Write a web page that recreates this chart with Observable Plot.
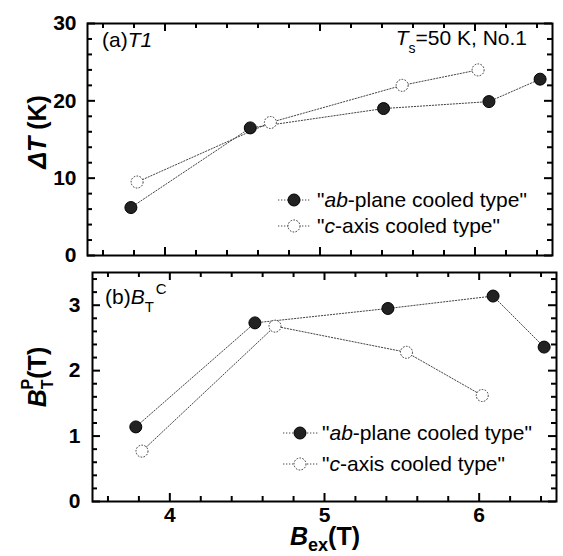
<!DOCTYPE html>
<html><head><meta charset="utf-8">
<script src="https://cdn.jsdelivr.net/npm/d3@7"></script>
<script src="https://cdn.jsdelivr.net/npm/@observablehq/plot@0.6"></script>
<style>
body{margin:0;background:#fff;}
#wrap{position:relative;width:563px;height:556px;overflow:hidden;}
#wrap svg{position:absolute;left:0;overflow:visible;}
</style></head><body><div id="wrap"></div>
<script>
// ---- data ----
const seriesNames = ['"ab-plane cooled type"', '"c-axis cooled type"'];
const bexAb = [3.78, 4.55, 5.41, 6.09, 6.42];
const dTAb  = [6.2, 16.5, 19.0, 19.9, 22.8];
const bexC  = [3.82, 4.68, 5.53, 6.02];
const dTC   = [9.5, 17.2, 22.0, 24.0];
const bpAb  = [1.14, 2.73, 2.95, 3.14, 2.36];
const bpC   = [0.77, 2.68, 2.28, 1.62];
const xMajor = [4, 5, 6];
const xMinor = [3.6, 3.8, 4.2, 4.4, 4.6, 4.8, 5.2, 5.4, 5.6, 5.8, 6.2, 6.4];
const yTopMajor = [0, 10, 20, 30];
const yTopMinor = [2, 4, 6, 8, 12, 14, 16, 18, 22, 24, 26, 28];
const yBotMajor = [0, 1, 2, 3];
const yBotMinor = [0.2, 0.4, 0.6, 0.8, 1.2, 1.4, 1.6, 1.8, 2.2, 2.4, 2.6, 2.8, 3.2, 3.4];

const FONT = "'Liberation Sans', Arial, sans-serif";
const wrap = document.getElementById("wrap");
const lineStyle = {stroke: "#444", strokeWidth: 1, strokeDasharray: "1.3,1.7"};
const fillDot = {r: 6, fill: "#222", stroke: "#000", strokeWidth: 1};
const openDot = {r: 6, fill: "white", stroke: "#333", strokeWidth: 1, strokeDasharray: "1.6,1.4"};

// inward frame ticks as Plot rules; pixel lengths converted to data units
function frameRules(xDom, yDom, innerW, innerH, xMaj, xMin, yMaj, yMin) {
  const kx = (xDom[1] - xDom[0]) / innerW, ky = (yDom[1] - yDom[0]) / innerH;
  const st = {stroke: "black", strokeWidth: 2};
  const out = [];
  for (const [vals, len] of [[xMaj, 8], [xMin, 5]]) {
    out.push(Plot.ruleX(vals, {x: d => d, y1: yDom[0], y2: yDom[0] + len * ky, ...st}));
    out.push(Plot.ruleX(vals, {x: d => d, y1: yDom[1], y2: yDom[1] - len * ky, ...st}));
  }
  for (const [vals, len] of [[yMaj, 8], [yMin, 5]]) {
    out.push(Plot.ruleY(vals, {y: d => d, x1: xDom[0], x2: xDom[0] + len * kx, ...st}));
    out.push(Plot.ruleY(vals, {y: d => d, x1: xDom[1], x2: xDom[1] - len * kx, ...st}));
  }
  return out;
}

// ---- top panel ----
const T = {w: 563, h: 270, mt: 23, mb: 15, ml: 87, mr: 11};
const TxDom = [3.5, 6.5], TyDom = [0, 30];
const topAb = bexAb.map((x, i) => ({x, y: dTAb[i]}));
const topC = bexC.map((x, i) => ({x, y: dTC[i]}));
const topPlot = Plot.plot({
  width: T.w, height: T.h, marginTop: T.mt, marginBottom: T.mb, marginLeft: T.ml, marginRight: T.mr,
  style: {fontFamily: FONT, background: "transparent", color: "black"},
  x: {domain: TxDom, axis: null},
  y: {domain: TyDom, axis: null},
  marks: [
    ...frameRules(TxDom, TyDom, T.w - T.ml - T.mr, T.h - T.mt - T.mb, xMajor, xMinor, yTopMajor, yTopMinor),
    Plot.axisY(yTopMajor, {anchor: "left", tickSize: 0, tickPadding: 11, tickFormat: d => String(d), fontSize: 21, fontWeight: "bold", label: null}),
    Plot.line(topAb, {x: "x", y: "y", ...lineStyle}),
    Plot.line(topC, {x: "x", y: "y", ...lineStyle}),
    Plot.dot(topC, {x: "x", y: "y", ...openDot}),
    Plot.dot(topAb, {x: "x", y: "y", ...fillDot}),
    Plot.frame({stroke: "black", strokeWidth: 2})
  ]
});
topPlot.style.top = "0px";
wrap.appendChild(topPlot);

// ---- bottom panel ----
const B = {w: 563, h: 294, mt: 10, mb: 55, ml: 92, mr: 7, top: 262};
const BxDom = [3.5, 6.5], ByDom = [0, 3.5];
const botAb = bexAb.map((x, i) => ({x, y: bpAb[i]}));
const botC = bexC.map((x, i) => ({x, y: bpC[i]}));
const botPlot = Plot.plot({
  width: B.w, height: B.h, marginTop: B.mt, marginBottom: B.mb, marginLeft: B.ml, marginRight: B.mr,
  style: {fontFamily: FONT, background: "transparent", color: "black"},
  x: {domain: BxDom, axis: null},
  y: {domain: ByDom, axis: null},
  marks: [
    ...frameRules(BxDom, ByDom, B.w - B.ml - B.mr, B.h - B.mt - B.mb, xMajor, xMinor, yBotMajor, yBotMinor),
    Plot.axisY(yBotMajor, {anchor: "left", tickSize: 0, tickPadding: 12, tickFormat: d => String(d), fontSize: 21, fontWeight: "bold", label: null}),
    Plot.axisX(xMajor, {anchor: "bottom", tickSize: 0, tickPadding: 6, tickFormat: d => String(d), fontSize: 21, fontWeight: "bold", label: null}),
    Plot.line(botAb, {x: "x", y: "y", ...lineStyle}),
    Plot.line(botC, {x: "x", y: "y", ...lineStyle}),
    Plot.dot(botC, {x: "x", y: "y", ...openDot}),
    Plot.dot(botAb, {x: "x", y: "y", ...fillDot}),
    Plot.frame({stroke: "black", strokeWidth: 2})
  ]
});
botPlot.style.top = B.top + "px";
wrap.appendChild(botPlot);

// ---- text overlays & legends ----
function addText(svg, x, y, parts, opts = {}) {
  const t = d3.select(svg).append("text")
    .attr("x", x).attr("y", y)
    .attr("font-family", FONT)
    .attr("font-size", opts.size || 21)
    .attr("font-weight", opts.weight || "normal")
    .attr("text-anchor", opts.anchor || "start")
    .attr("fill", "black");
  if (opts.transform) t.attr("transform", opts.transform);
  for (const p of parts) {
    const s = t.append("tspan").text(p.t);
    if (p.i) s.attr("font-style", "italic");
    if (p.size) s.attr("font-size", p.size);
    if (p.dy) s.attr("dy", p.dy);
    if (p.dx) s.attr("dx", p.dx);
  }
  return t;
}
function legend(svg, x0, x1, xm, xt, ys) {
  const g = d3.select(svg).append("g");
  const labels = [
    [{t: '"'}, {t: "ab", i: true}, {t: '-plane cooled type"'}],
    [{t: '"'}, {t: "c", i: true}, {t: '-axis cooled type"'}]
  ];
  ys.forEach((y, k) => {
    g.append("line").attr("x1", x0).attr("x2", x1).attr("y1", y).attr("y2", y)
      .attr("stroke", "#444").attr("stroke-dasharray", "1.3,1.7");
    const c = g.append("circle").attr("cx", xm).attr("cy", y).attr("r", 6);
    if (k === 0) c.attr("fill", "#222").attr("stroke", "#000");
    else c.attr("fill", "white").attr("stroke", "#333").attr("stroke-dasharray", "1.6,1.4");
    addText(svg, xt, y + 7, labels[k], {size: 21});
  });
}

// top
addText(topPlot, 102, 47, [{t: "(a)"}, {t: "T1", i: true}]);
addText(topPlot, 527, 45, [{t: "T", i: true}, {t: "s", size: 14, dy: 8}, {t: "=50 K, No.1", dy: -8}], {anchor: "end"});
addText(topPlot, 0, 0, [{t: "\u0394T", i: true}, {t: " (K)"}], {size: 25, weight: "bold", anchor: "middle", transform: "translate(46,132) rotate(-90)"});
legend(topPlot, 278, 310, 294, 317, [200, 226]);

// bottom
addText(botPlot, 105, 42, [{t: "(b)"}, {t: "B", i: true}, {t: "T", size: 15, dy: 8}, {t: "C", size: 15, dy: -18, dx: 2}]);
addText(botPlot, 0, 0, [{t: "B", i: true}, {t: "T", size: 16, dy: 7}, {t: "P", size: 16, dx: -10, dy: -20}, {t: "(T)", dy: 13}], {size: 25, weight: "bold", anchor: "middle", transform: "translate(46,115) rotate(-90)"});
addText(botPlot, 290, 283, [{t: "B", i: true}, {t: "ex", size: 18, dy: 6}, {t: "(T)", dy: -6}], {size: 25, weight: "bold"});
legend(botPlot, 283, 318, 300, 322, [171, 202]);
</script></body></html>
